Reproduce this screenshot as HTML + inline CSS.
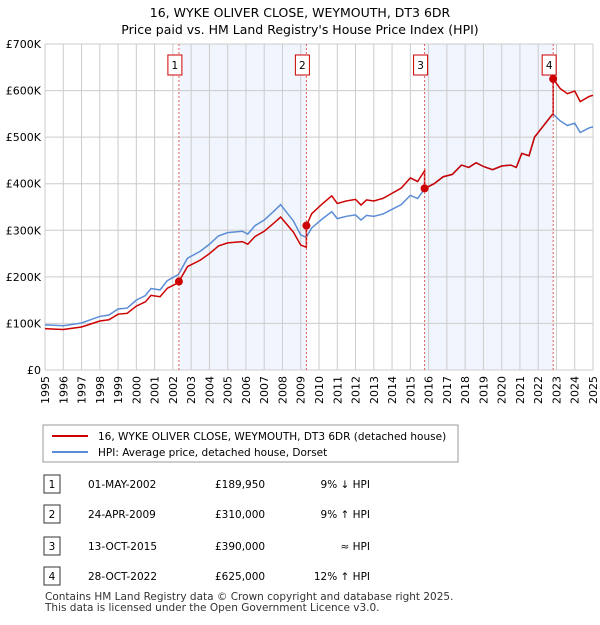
<!DOCTYPE html>
<html><head><meta charset="utf-8"><style>
body{margin:0;background:#fff;font-family:"Liberation Sans","DejaVu Sans",sans-serif;}
svg text{font-family:"DejaVu Sans","Liberation Sans",sans-serif;}
</style></head><body>
<svg id="c" width="600" height="620" xmlns="http://www.w3.org/2000/svg">
<text x="300" y="17" text-anchor="middle" font-size="12.5">16, WYKE OLIVER CLOSE, WEYMOUTH, DT3 6DR</text>
<text x="300" y="34" text-anchor="middle" font-size="12.5">Price paid vs. HM Land Registry's House Price Index (HPI)</text>
<g id="plot"></g>
<g>
<rect x="43" y="425" width="415" height="37" fill="#fff" stroke="#999"/>
<line x1="52" y1="436" x2="88" y2="436" stroke="#cc0000" stroke-width="2"/>
<text x="98" y="440" font-size="10.5">16, WYKE OLIVER CLOSE, WEYMOUTH, DT3 6DR (detached house)</text>
<line x1="52" y1="452" x2="88" y2="452" stroke="#5b8dd6" stroke-width="2"/>
<text x="98" y="456" font-size="10.5">HPI: Average price, detached house, Dorset</text>
</g>
<g id="tbl" font-size="10.5"></g>
<text x="45" y="600" font-size="10.5" fill="#333">Contains HM Land Registry data © Crown copyright and database right 2025.</text>
<text x="45" y="611" font-size="10.5" fill="#333">This data is licensed under the Open Government Licence v3.0.</text>
</svg>
<script>
const hpiYears=[1995,1995.5,1996,1996.5,1997,1997.5,1998,1998.5,1999,1999.5,2000,2000.5,2000.8,2001.3,2001.7,2002.3,2002.8,2003.5,2004,2004.5,2005,2005.8,2006.1,2006.5,2007,2007.5,2007.9,2008.2,2008.6,2009.0,2009.3,2009.6,2010.2,2010.7,2011,2011.5,2012,2012.3,2012.6,2013,2013.5,2014,2014.5,2015,2015.4,2015.8,2016.3,2016.8,2017.3,2017.8,2018.2,2018.6,2019,2019.5,2020,2020.5,2020.8,2021.1,2021.5,2021.8,2022.3,2022.8,2023.2,2023.6,2024,2024.3,2024.8,2025];
const hpiValues=[97,96,95,98,101,108,115,118,131,133,150,160,175,172,192,205,240,255,270,288,295,298,292,310,322,340,355,340,320,290,285,305,325,340,325,330,333,322,332,330,335,345,355,375,368,390,400,415,420,440,435,445,437,430,438,440,435,465,460,500,525,550,535,525,530,510,520,522];
const saleYears=[2002.33,2009.31,2015.78,2022.82];
const salePrices=[189950,310000,390000,625000];
const segFactors=[0.915,0.925,1.1,1.0,1.13];
const saleLabels=["1","2","3","4"];
const saleDates=["01-MAY-2002","24-APR-2009","13-OCT-2015","28-OCT-2022"];
const salePriceText=["£189,950","£310,000","£390,000","£625,000"];
const saleHpiText=["9% ↓ HPI","9% ↑ HPI","≈ HPI","12% ↑ HPI"];
const yTicks=[0,100,200,300,400,500,600,700];
const yTickLabels=["£0","£100K","£200K","£300K","£400K","£500K","£600K","£700K"];
const NS="http://www.w3.org/2000/svg";
const X0=45,X1=593,Y0=370,Y1=44;
const sx=y=>X0+(y-1995)/30*(X1-X0);
const sy=v=>Y0-v/700*(Y0-Y1);
const g=document.getElementById('plot');
function el(t,a,p){const e=document.createElementNS(NS,t);for(const k in a)e.setAttribute(k,a[k]);(p||g).appendChild(e);return e;}
for(let i=0;i<4;i+=2){const r=el('rect',{x:sx(saleYears[i]),y:Y1,width:sx(saleYears[i+1])-sx(saleYears[i]),height:Y0-Y1,fill:'#eef3fc',opacity:0.8});

}
for(let y=1995;y<=2025;y++){const l=el('line',{x1:sx(y),x2:sx(y),y1:Y1,y2:Y0,stroke:'#ccc','stroke-width':1});


const t=el('text',{x:0,y:0,'font-size':11,'text-anchor':'end',transform:`translate(${sx(y)+4},${Y0+6}) rotate(-90)`});t.textContent=y;

}
yTicks.forEach((v,i)=>{const l=el('line',{x1:X0,x2:X1,y1:sy(v),y2:sy(v),stroke:'#ccc','stroke-width':1});


const t=el('text',{x:X0-4,y:sy(v)+4,'font-size':11,'text-anchor':'end'});t.textContent=yTickLabels[i];

});
const hp=el('polyline',{points:hpiYears.map((y,i)=>sx(y)+','+sy(hpiValues[i])).join(' '),fill:'none',stroke:'#5b8dd6','stroke-width':1.5});


function seg(y){let s=0;while(s<4&&y>=saleYears[s])s++;return s;}
let pts=[];
hpiYears.forEach((y,i)=>{
 saleYears.forEach((sy_,k)=>{ if(i>0&&hpiYears[i-1]<sy_&&y>=sy_){ pts.push([sy_,hpiValues[i-1]*segFactors[k]+(hpiValues[i]-hpiValues[i-1])*segFactors[k]*(sy_-hpiYears[i-1])/(y-hpiYears[i-1])]); pts.push([sy_,salePrices[k]/1000]); }});
 pts.push([y,hpiValues[i]*segFactors[seg(y)]]);
});
const rp=el('polyline',{points:pts.map(p=>sx(p[0])+','+sy(p[1])).join(' '),fill:'none',stroke:'#cc0000','stroke-width':1.5});


saleYears.forEach((y,i)=>{
 const l=el('line',{x1:sx(y),x2:sx(y),y1:Y1,y2:Y0,stroke:'#e06060','stroke-dasharray':'2,2','stroke-width':1});
 
 
 const c=el('circle',{cx:sx(y),cy:sy(salePrices[i]/1000),r:4,fill:'#cc0000'});
 
 
 const b=el('rect',{x:sx(y)-11,y:55,width:14,height:20,fill:'#fff',stroke:'#cc0000'});
 
 
 const t=el('text',{x:sx(y)-4,y:69,'font-size':10.5,'text-anchor':'middle'});t.textContent=saleLabels[i];
 
 
});
const tb=document.getElementById('tbl');
const rowY=[484,514,546,576];
rowY.forEach((ry,i)=>{
 const b=el('rect',{x:44,y:ry-9,width:16,height:18,fill:'#fff',stroke:'#333'},tb);
 
 
 const cells=[[52,saleLabels[i],'middle'],[88,saleDates[i],'start'],[215,salePriceText[i],'start'],[370,saleHpiText[i],'end']];
 cells.forEach(c=>{const t=el('text',{x:c[0],y:ry+4,'text-anchor':c[2]},tb);t.textContent=c[1];
 
 });
});
</script>
</body></html>
